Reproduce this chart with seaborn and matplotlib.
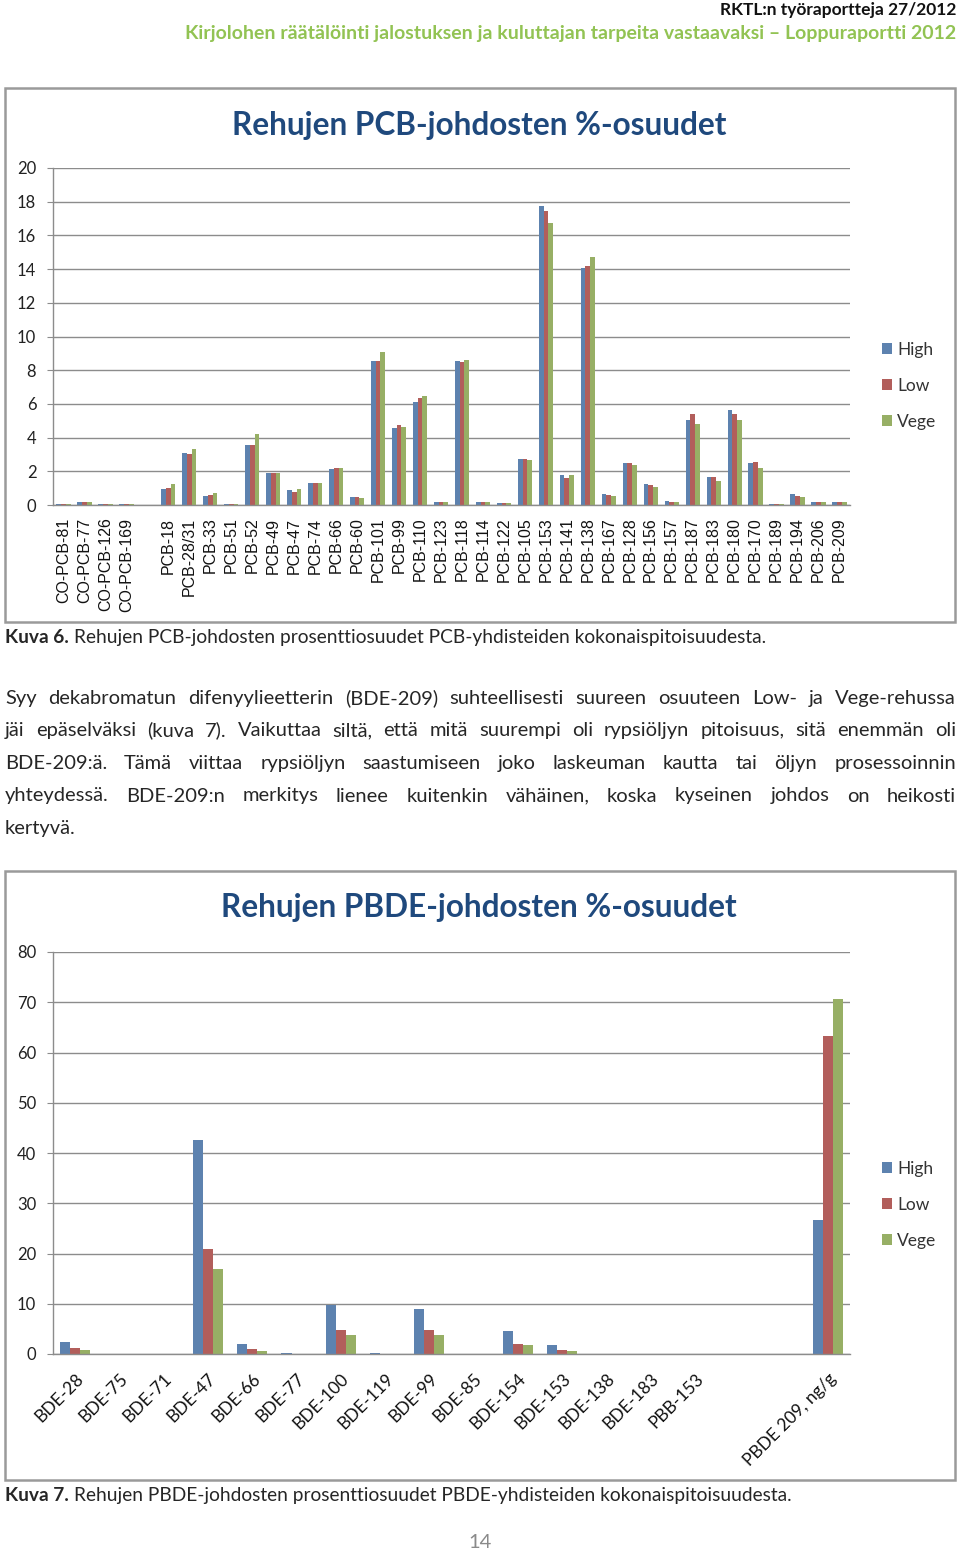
import numpy as np
import pandas as pd
import seaborn as sns
import matplotlib.pyplot as plt
from matplotlib.patches import Rectangle

# --- data: PCB chart (percent of total PCB) ---
pcb_labels = ["CO-PCB-81", "CO-PCB-77", "CO-PCB-126", "CO-PCB-169", "",
              "PCB-18", "PCB-28/31", "PCB-33", "PCB-51", "PCB-52", "PCB-49", "PCB-47",
              "PCB-74", "PCB-66", "PCB-60", "PCB-101", "PCB-99", "PCB-110", "PCB-123",
              "PCB-118", "PCB-114", "PCB-122", "PCB-105", "PCB-153", "PCB-141", "PCB-138",
              "PCB-167", "PCB-128", "PCB-156", "PCB-157", "PCB-187", "PCB-183", "PCB-180",
              "PCB-170", "PCB-189", "PCB-194", "PCB-206", "PCB-209"]
pcb_high = [0.08, 0.2, 0.07, 0.07, np.nan,
            0.94, 3.08, 0.51, 0.08, 3.59, 1.88, 0.88, 1.29, 2.14, 0.45,
            8.57, 4.55, 6.10, 0.15, 8.53, 0.15, 0.10, 2.75, 17.75, 1.76, 14.04,
            0.63, 2.47, 1.24, 0.25, 5.06, 1.65, 5.65, 2.51, 0.08, 0.63, 0.20, 0.15]
pcb_low = [0.08, 0.2, 0.07, 0.07, np.nan,
           1.02, 3.00, 0.57, 0.08, 3.59, 1.88, 0.78, 1.29, 2.18, 0.45,
           8.57, 4.73, 6.33, 0.15, 8.47, 0.15, 0.10, 2.75, 17.47, 1.63, 14.18,
           0.57, 2.51, 1.16, 0.20, 5.41, 1.65, 5.41, 2.57, 0.08, 0.55, 0.20, 0.15]
pcb_vege = [0.08, 0.2, 0.07, 0.07, np.nan,
            1.24, 3.35, 0.69, 0.08, 4.22, 1.88, 0.94, 1.29, 2.22, 0.41,
            9.08, 4.61, 6.45, 0.15, 8.63, 0.15, 0.10, 2.67, 16.71, 1.76, 14.71,
            0.51, 2.35, 1.06, 0.20, 4.82, 1.43, 5.06, 2.18, 0.08, 0.45, 0.15, 0.15]

# --- data: PBDE chart ---
bde_labels = ["BDE-28", "BDE-75", "BDE-71", "BDE-47", "BDE-66", "BDE-77", "BDE-100",
              "BDE-119", "BDE-99", "BDE-85", "BDE-154", "BDE-153", "BDE-138", "BDE-183",
              "PBB-153", "", " ", "PBDE 209, ng/g"]
bde_high = [2.38, 0, 0, 42.5, 1.99, 0.2, 9.67, 0.2, 9.0, 0, 4.67, 1.73, 0, 0, 0,
            np.nan, np.nan, 26.7]
bde_low = [1.13, 0, 0, 20.9, 0.93, 0.05, 4.8, 0, 4.8, 0, 2.07, 0.8, 0, 0, 0,
           np.nan, np.nan, 63.3]
bde_vege = [0.73, 0, 0, 16.95, 0.6, 0, 3.8, 0, 3.8, 0, 1.73, 0.67, 0, 0, 0,
            np.nan, np.nan, 70.7]

groups = ["High", "Low", "Vege"]
colors = ["#4F81BD", "#C0504D", "#9BBB59"]

W, H = 960, 1556
sns.set_style("white")
plt.rcParams['font.family'] = ['Lato', 'DejaVu Sans']

fig = plt.figure(figsize=(W / 100, H / 100), dpi=100)
renderer = fig.canvas.get_renderer()


def px_axes(x0, y0, x1, y1):
    return fig.add_axes([x0 / W, 1 - y1 / H, (x1 - x0) / W, (y1 - y0) / H])


def ftext(x, y, s, **kw):
    return fig.text(x / W, 1 - y / H, s, **kw)


def frame(x0, y0, x1, y1):
    fig.patches.append(Rectangle((x0 / W, 1 - y1 / H), (x1 - x0) / W, (y1 - y0) / H,
                                 transform=fig.transFigure, fill=False,
                                 edgecolor="#9a9a9a", lw=1.8))


def caption(y, head, body):
    t = ftext(5, y, head, ha="left", va="baseline", fontsize=13.8, fontweight="bold")
    w = t.get_window_extent(renderer).width
    ftext(5 + w + 5, y, body, ha="left", va="baseline", fontsize=13.8)


def long_df(labels, high, low, vege):
    df = pd.DataFrame({"cat": labels, "High": high, "Low": low, "Vege": vege})
    df = df.melt(id_vars="cat", var_name="group", value_name="value")
    return df.dropna()


def bar_chart(ax, df, order, ylim, step):
    sns.barplot(data=df, x="cat", y="value", hue="group", order=order,
                hue_order=groups, palette=colors, width=0.68, gap=0,
                errorbar=None, linewidth=0, ax=ax)
    ax.set_ylim(0, ylim)
    ax.set_yticks(np.arange(0, ylim + 1, step))
    ax.set_xlim(-0.5, len(order) - 0.5)
    ax.grid(axis="y", color="#8c8c8c", lw=1)
    ax.set_axisbelow(True)
    for s in ["top", "right"]:
        ax.spines[s].set_visible(False)
    for s in ["left", "bottom"]:
        ax.spines[s].set_color("#8c8c8c")
        ax.spines[s].set_linewidth(1)
    ax.tick_params(axis="y", length=4, color="#8c8c8c", labelsize=12, pad=8,
                   left=True, labelcolor="#222222")
    ax.tick_params(axis="x", length=0)
    ax.set_xlabel("")
    ax.set_ylabel("")
    ax.get_legend().remove()
    handles, labs = ax.get_legend_handles_labels()
    return handles, labs


def legend(handles, labs, y):
    fig.legend(handles, labs, loc="center left", bbox_to_anchor=(873 / W, 1 - y / H),
               bbox_transform=fig.transFigure, frameon=False, fontsize=12.5,
               handlelength=0.6, handleheight=0.6, handletextpad=0.3,
               labelspacing=1.15, borderpad=0, labelcolor="#333333")


# --- header ---
ftext(956, 10, "RKTL:n työraportteja 27/2012", ha="right", va="center",
      fontsize=12.5, fontweight="bold", color="#111111")
ftext(956, 34, "Kirjolohen räätälöinti jalostuksen ja kuluttajan tarpeita vastaavaksi \u2013 Loppuraportti 2012",
      ha="right", va="center", fontsize=14, fontweight="bold", color="#92C353")

# --- chart 1 ---
frame(5, 88, 955, 622)
ftext(479, 125, "Rehujen PCB-johdosten %-osuudet", ha="center", va="center",
      fontsize=22.7, fontweight="bold", color="#1F497D")
ax1 = px_axes(53, 168, 850, 505)
df1 = long_df(pcb_labels, pcb_high, pcb_low, pcb_vege)
h1, l1 = bar_chart(ax1, df1, pcb_labels, 20, 2)
ax1.set_xticks(range(len(pcb_labels)))
ax1.set_xticklabels(pcb_labels, rotation=90, fontsize=11.5,
                    family=["Liberation Sans", "DejaVu Sans"], color="#111111")
ax1.tick_params(axis="x", pad=9)
legend(h1, l1, 386)

caption(643, "Kuva 6.", "Rehujen PCB-johdosten prosenttiosuudet PCB-yhdisteiden kokonaispitoisuudesta.")

# --- paragraph, justified ---
para = [
    "Syy dekabromatun difenyylieetterin (BDE-209) suhteellisesti suureen osuuteen Low- ja Vege-rehussa",
    "jäi epäselväksi (kuva 7). Vaikuttaa siltä, että mitä suurempi oli rypsiöljyn pitoisuus, sitä enemmän oli",
    "BDE-209:ä. Tämä viittaa rypsiöljyn saastumiseen joko laskeuman kautta tai öljyn prosessoinnin",
    "yhteydessä. BDE-209:n merkitys lienee kuitenkin vähäinen, koska kyseinen johdos on heikosti",
    "kertyvä.",
]
base_y = 704
for i, line in enumerate(para):
    y = base_y + i * 32.5
    words = line.split()
    if i == len(para) - 1:
        ftext(5, y, line, ha="left", va="baseline", fontsize=14.5)
        continue
    texts = [ftext(0, y, w, ha="left", va="baseline", fontsize=14.5) for w in words]
    widths = [t.get_window_extent(renderer).width for t in texts]
    gap = (951 - sum(widths)) / (len(words) - 1)
    x = 5
    for t, w in zip(texts, widths):
        t.set_x(x / W)
        x += w + gap

# --- chart 2 ---
frame(5, 871, 955, 1480)
ftext(479, 908, "Rehujen PBDE-johdosten %-osuudet", ha="center", va="center",
      fontsize=22.7, fontweight="bold", color="#1F497D")
ax2 = px_axes(53, 952, 850, 1354)
df2 = long_df(bde_labels, bde_high, bde_low, bde_vege)
h2, l2 = bar_chart(ax2, df2, bde_labels, 80, 10)
ax2.set_xticks(range(len(bde_labels)))
ax2.set_xticklabels(bde_labels, rotation=45, ha="right", va="top",
                    rotation_mode="anchor", fontsize=12.5, color="#111111")
ax2.tick_params(axis="x", pad=12)
legend(h2, l2, 1205)

caption(1501, "Kuva 7.", "Rehujen PBDE-johdosten prosenttiosuudet PBDE-yhdisteiden kokonaispitoisuudesta.")

ftext(480, 1543, "14", ha="center", va="center", fontsize=14.5, color="#8a8a8a")

fig.savefig("out.png", dpi=100)
